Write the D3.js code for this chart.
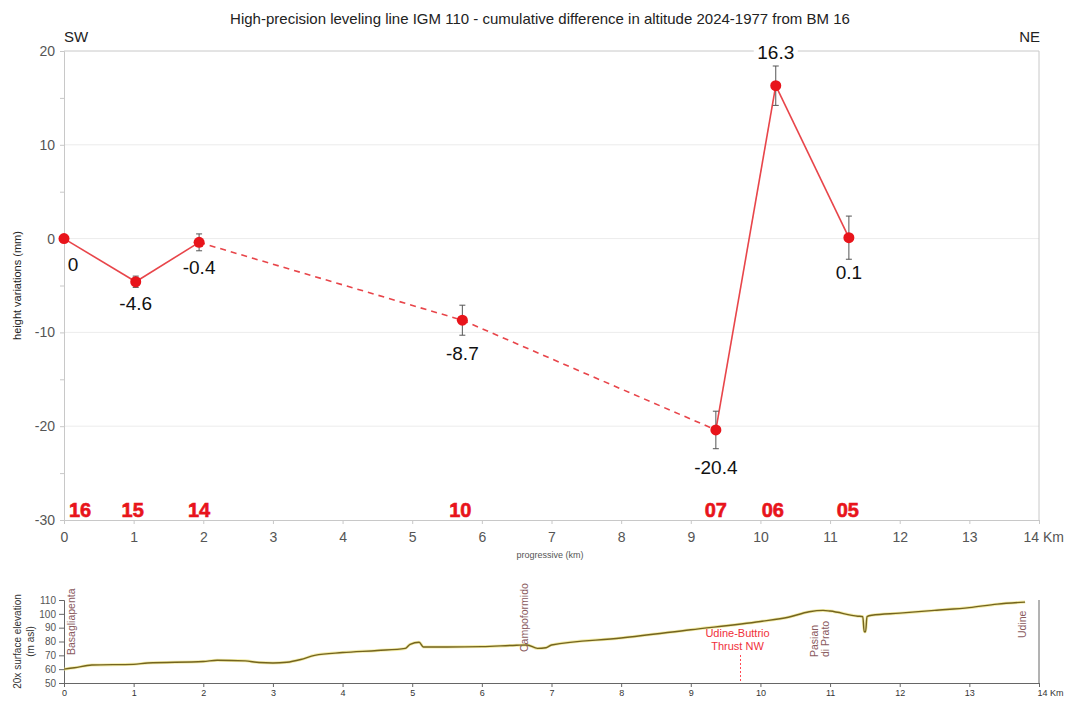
<!DOCTYPE html>
<html>
<head>
<meta charset="utf-8">
<script src="https://cdn.jsdelivr.net/npm/d3@7"></script>
<style>
  html, body { margin: 0; padding: 0; background: #fff; }
  svg { display: block; font-family: Arial, "Liberation Sans", sans-serif; }
</style>
</head>
<body>
<svg id="chart" width="1072" height="704"></svg>
<script>
// Benchmarks along leveling line IGM 110
const benchmarks = ["16", "15", "14", "10", "07", "06", "05"];
const distanceKm = [0, 1.03, 1.94, 5.72, 9.36, 10.22, 11.27];
const heightDiff = [0, -4.6, -0.4, -8.7, -20.4, 16.3, 0.1];
const errorMm = [0, 0.6, 0.9, 1.6, 2.0, 2.1, 2.3];
const valueLabels = ["0", "-4.6", "-0.4", "-8.7", "-20.4", "16.3", "0.1"];
// segment style between consecutive benchmarks (true = dashed)
const segmentDashed = [false, false, true, true, false, false];

const yTicks = [-30, -20, -10, 0, 10, 20];
const xTicks = [0, 1, 2, 3, 4, 5, 6, 7, 8, 9, 10, 11, 12, 13, 14];

// Surface elevation profile (km, m asl)
const profileKm = [0, 0.15, 0.4, 1.0, 1.2, 2.0, 2.2, 2.6, 2.8, 3.0, 3.2, 3.4, 3.6, 4.0, 4.5, 4.9, 4.97, 5.1, 5.16, 5.5, 6.0, 6.5, 6.65, 6.8, 6.92, 7.0, 8.0, 9.0, 10.0, 10.4, 10.7, 10.9, 11.0, 11.4, 11.47, 11.49, 11.51, 11.53, 11.6, 12.0, 12.5, 13.0, 13.4, 13.8];
const profileM  = [60, 61, 63, 63.5, 64.5, 65.5, 66.5, 66, 64.8, 64.5, 65, 67, 70, 72, 73.5, 75, 78, 79.5, 76, 76, 76.3, 77.3, 77.5, 75, 75.5, 77.5, 82.5, 88.5, 94.5, 97.5, 101.5, 102.5, 102, 98.3, 98, 87, 87, 98, 99, 100.5, 102.5, 104.5, 107, 108.5];
const profileTicks = [50, 60, 70, 80, 90, 100, 110];
const places = [
  { name: ["Basagliapenta"], km: 0.1 },
  { name: ["Campoformido"], km: 6.6 },
  { name: ["Pasian", "di Prato"], km: 10.85 },
  { name: ["Udine"], km: 13.75 }
];
const thrustKm = 9.7;
const thrustLabel = ["Udine-Buttrio", "Thrust NW"];

const svg = d3.select("#chart");
const red = "#e8141b";
const axisGray = "#c8c8c8";
const textGray = "#555";

// ---------- main chart ----------
const x = d3.scaleLinear().domain([0, 14]).range([64, 1039]);
const y = d3.scaleLinear().domain([-30, 20]).range([520, 51]);

const main = svg.append("g");

// horizontal grid
main.append("g").selectAll("line").data(yTicks.filter(v => v > -30 && v < 20)).join("line")
  .attr("x1", x(0)).attr("x2", x(14))
  .attr("y1", d => y(d)).attr("y2", d => y(d))
  .attr("stroke", "#ececec").attr("stroke-width", 1);

// frame: top, right
main.append("line").attr("x1", x(0)).attr("x2", x(14)).attr("y1", y(20)).attr("y2", y(20))
  .attr("stroke", axisGray);
main.append("line").attr("x1", x(14)).attr("x2", x(14)).attr("y1", y(20)).attr("y2", y(-30))
  .attr("stroke", axisGray);

// y axis
const yAxis = main.append("g").attr("transform", `translate(${x(0)},0)`)
  .call(d3.axisLeft(y).tickValues(d3.range(-30, 21, 5)).tickSize(4)
    .tickFormat(d => yTicks.includes(d) ? d : ""));
yAxis.select(".domain").attr("stroke", axisGray);
yAxis.selectAll(".tick line").attr("stroke", axisGray);
yAxis.selectAll(".tick text").attr("font-size", 14).attr("fill", textGray)
  .attr("font-family", "Arial, Liberation Sans, sans-serif").attr("dx", -2);

// x axis
const xAxis = main.append("g").attr("transform", `translate(0,${y(-30)})`)
  .call(d3.axisBottom(x).tickValues(xTicks).tickSize(4)
    .tickFormat(d => d === 14 ? "14 Km" : d));
xAxis.select(".domain").attr("stroke", axisGray);
xAxis.selectAll(".tick line").attr("stroke", axisGray);
xAxis.selectAll(".tick text").attr("font-size", 14).attr("fill", textGray)
  .attr("font-family", "Arial, Liberation Sans, sans-serif").attr("dy", "1.05em");
xAxis.selectAll(".tick").filter(d => d === 14).select("text")
  .attr("text-anchor", "start").attr("dx", -16);

main.append("text").attr("x", 550).attr("y", 558).attr("text-anchor", "middle")
  .attr("font-size", 9).attr("fill", textGray).text("progressive (km)");

main.append("text").attr("transform", `translate(21,${y(-5)}) rotate(-90)`)
  .attr("text-anchor", "middle").attr("font-size", 11).attr("fill", "#222")
  .text("height variations (mm)");

// title and orientation
svg.append("text").attr("x", 540).attr("y", 24).attr("text-anchor", "middle")
  .attr("font-size", 15).attr("fill", "#222")
  .text("High-precision leveling line IGM 110 - cumulative difference in altitude 2024-1977 from BM 16");
svg.append("text").attr("x", 64).attr("y", 42).attr("font-size", 15).attr("fill", "#222").text("SW");
svg.append("text").attr("x", 1040).attr("y", 42).attr("text-anchor", "end")
  .attr("font-size", 15).attr("fill", "#222").text("NE");

// connecting segments
const pts = distanceKm.map((d, i) => ({ km: d, v: heightDiff[i], e: errorMm[i], bm: benchmarks[i], lab: valueLabels[i] }));
const segs = segmentDashed.map((dash, i) => ({ a: pts[i], b: pts[i + 1], dash }));
main.append("g").selectAll("line").data(segs).join("line")
  .attr("x1", d => x(d.a.km)).attr("y1", d => y(d.a.v))
  .attr("x2", d => x(d.b.km)).attr("y2", d => y(d.b.v))
  .attr("stroke", "#e8454a").attr("stroke-width", 1.6)
  .attr("stroke-dasharray", d => d.dash ? "6,5" : null);

// error bars
const eb = main.append("g").selectAll("g").data(pts.filter(p => p.e > 0)).join("g")
  .attr("stroke", "#555").attr("stroke-width", 1);
eb.append("line").attr("x1", d => x(d.km)).attr("x2", d => x(d.km))
  .attr("y1", d => y(d.v + d.e)).attr("y2", d => y(d.v - d.e));
eb.append("line").attr("x1", d => x(d.km) - 3).attr("x2", d => x(d.km) + 3)
  .attr("y1", d => y(d.v + d.e)).attr("y2", d => y(d.v + d.e));
eb.append("line").attr("x1", d => x(d.km) - 3).attr("x2", d => x(d.km) + 3)
  .attr("y1", d => y(d.v - d.e)).attr("y2", d => y(d.v - d.e));

// points
main.append("g").selectAll("circle").data(pts).join("circle")
  .attr("cx", d => x(d.km)).attr("cy", d => y(d.v)).attr("r", 5.5)
  .attr("fill", red);

// value labels, placed relative to each point (dx, dy in px)
const labelOffset = {
  "0": [9, 32], "-4.6": [0, 28], "-0.4": [0, 32], "-8.7": [0, 40],
  "-20.4": [0, 44], "16.3": [0, -27], "0.1": [0, 41]
};
const vl = main.append("g").selectAll("g").data(pts).join("g");
vl.each(function (d) {
  const off = labelOffset[d.lab];
  const g = d3.select(this);
  const tx = x(d.km) + off[0], ty = y(d.v) + off[1];
  if (off[1] < 0) {
    g.append("rect").attr("x", tx - 22).attr("y", ty - 17).attr("width", 44).attr("height", 20).attr("fill", "#fff");
  }
  g.append("text").attr("x", tx).attr("y", ty)
    .attr("text-anchor", "middle")
    .attr("font-size", 19).attr("fill", "#111").text(d.lab);
});

// benchmark ids
const bmOffset = { "16": 16, "15": -3, "14": 0, "10": -2, "07": 0, "06": -3, "05": -1 };
main.append("g").selectAll("text").data(pts).join("text")
  .attr("x", d => x(d.km) + bmOffset[d.bm]).attr("y", y(-30) - 3)
  .attr("text-anchor", "middle").attr("font-size", 20).attr("font-weight", "bold")
  .attr("fill", red).attr("stroke", red).attr("stroke-width", 0.6).text(d => d.bm);

// ---------- elevation profile ----------
const py = d3.scaleLinear().domain([50, 110]).range([683, 600]);
const prof = svg.append("g");

const pyAxis = prof.append("g").attr("transform", `translate(${x(0)},0)`)
  .call(d3.axisLeft(py).tickValues(profileTicks).tickSize(5));
pyAxis.select(".domain").attr("stroke", "#666");
pyAxis.selectAll(".tick line").attr("stroke", "#666");
pyAxis.selectAll(".tick text").attr("font-size", 10).attr("fill", textGray)
  .attr("font-family", "Arial, Liberation Sans, sans-serif");

const pxAxis = prof.append("g").attr("transform", `translate(0,${py(50)})`)
  .call(d3.axisBottom(x).tickValues(xTicks).tickSize(4)
    .tickFormat(d => d === 14 ? "14 Km" : d));
pxAxis.select(".domain").attr("stroke", "#666");
pxAxis.selectAll(".tick line").attr("stroke", "#666");
pxAxis.selectAll(".tick text").attr("font-size", 9).attr("fill", "#333")
  .attr("font-family", "Arial, Liberation Sans, sans-serif");
pxAxis.selectAll(".tick").filter(d => d === 14).select("text")
  .attr("text-anchor", "start").attr("dx", -2);

prof.append("line").attr("x1", x(14)).attr("x2", x(14)).attr("y1", py(110)).attr("y2", py(50))
  .attr("stroke", "#666");

prof.append("text").attr("transform", `translate(21,${py(80)}) rotate(-90)`)
  .attr("text-anchor", "middle").attr("font-size", 10).attr("fill", "#333")
  .text("20x surface elevation");
prof.append("text").attr("transform", `translate(34,${py(80)}) rotate(-90)`)
  .attr("text-anchor", "middle").attr("font-size", 10).attr("fill", "#333")
  .text("(m asl)");

const profData = profileKm.map((k, i) => [k, profileM[i]]);
const line = d3.line().x(d => x(d[0])).y(d => py(d[1])).curve(d3.curveMonotoneX);
prof.append("path").datum(profData).attr("d", line).attr("fill", "none")
  .attr("stroke", "#efe690").attr("stroke-width", 3).attr("stroke-opacity", 0.8);
prof.append("path").datum(profData).attr("d", line).attr("fill", "none")
  .attr("stroke", "#74641f").attr("stroke-width", 1.4);

// place names
const placeG = prof.append("g").selectAll("g").data(places).join("g");
placeG.each(function (p) {
  const g = d3.select(this);
  const n = p.name.length;
  p.name.forEach((s, i) => {
    const baseY = p.name.length > 1 ? 657 : (p.name[0] === "Udine" ? 638 : (p.name[0] === "Campoformido" ? 652 : 655));
    g.append("text")
      .attr("transform", `translate(${x(p.km) + (i - (n - 1) / 2) * 11 + 4},${baseY}) rotate(-90)`)
      .attr("font-size", 10.5).attr("fill", "#8a5a5e").text(s);
  });
});

// thrust
prof.append("line").attr("x1", Math.round(x(thrustKm)) + 0.5).attr("x2", Math.round(x(thrustKm)) + 0.5)
  .attr("y1", 655).attr("y2", py(50))
  .attr("stroke", "#ff4a55").attr("stroke-width", 1).attr("stroke-dasharray", "2,2");
prof.append("g").selectAll("text").data(thrustLabel).join("text")
  .attr("x", x(thrustKm) - 2).attr("y", (d, i) => 637 + i * 13)
  .attr("text-anchor", "middle").attr("font-size", 11).attr("fill", "#f0303a").text(d => d);
</script>
</body>
</html>
